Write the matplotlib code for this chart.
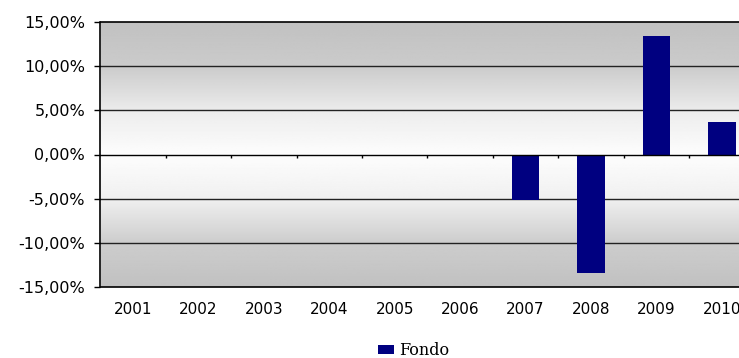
import numpy as np
import matplotlib.pyplot as plt
from matplotlib.ticker import FuncFormatter, FixedLocator

# annual returns of the fund (%)
years = ['2001', '2002', '2003', '2004', '2005', '2006', '2007', '2008', '2009', '2010']
fondo = [0, 0, 0, 0, 0, 0, -5.15, -13.4, 13.4, 3.65]
yticks = [-15, -10, -5, 0, 5, 10, 15]

fig = plt.figure(figsize=(7.39, 3.58), dpi=100)
ax = fig.add_axes([100.5 / 739, 71 / 358, 654 / 739, 265 / 358])

x = np.arange(len(years))
ax.set_xlim(-0.5, len(years) - 0.5)
ax.set_ylim(-15, 15)

# gray -> white -> gray background
levels = [15, 10, 5, 0, -5, -10, -15]
shades = [193, 203, 236, 253, 240, 205, 193]
yy = np.linspace(15, -15, 400)
g = np.interp(-yy, [-l for l in levels], shades) / 255.0
img = np.repeat(g[:, None], 2, axis=1)
ax.imshow(img, cmap='gray', vmin=0, vmax=1, aspect='auto',
          extent=(-0.5, len(years) - 0.5, -15, 15), zorder=0)

for v in [5, 10, -5, -10]:
    ax.axhline(v, color='#222222', lw=1.0, zorder=1)
ax.axhline(0, color='black', lw=1.0, zorder=3)
# category separators hanging under the zero line
ax.vlines(np.arange(0.5, len(years) - 0.5), -0.45, 0, color='black', lw=1.0, zorder=3)

ax.bar(x, fondo, width=0.42, color='#000080', label='Fondo', zorder=2)

ax.yaxis.set_major_locator(FixedLocator(yticks))
ax.yaxis.set_major_formatter(FuncFormatter(lambda v, p: f'{v:.2f}%'.replace('.', ',')))
ax.set_xticks(x)
ax.set_xticklabels(years)
ax.tick_params(axis='x', length=0, pad=11, labelsize=11, labelcolor='black')
ax.tick_params(axis='y', length=4, width=1, pad=7, labelsize=11.5, labelcolor='black')

for s in ['left', 'bottom', 'top']:
    ax.spines[s].set_color('black')
    ax.spines[s].set_linewidth(1.2)
ax.spines['right'].set_visible(False)

fig.legend(loc='center', bbox_to_anchor=(0.56, 0.02), frameon=False,
           handlelength=1.0, handleheight=0.5, handletextpad=0.3,
           prop={'family': 'DejaVu Serif', 'size': 11.5})

fig.savefig('out.png', dpi=100)
